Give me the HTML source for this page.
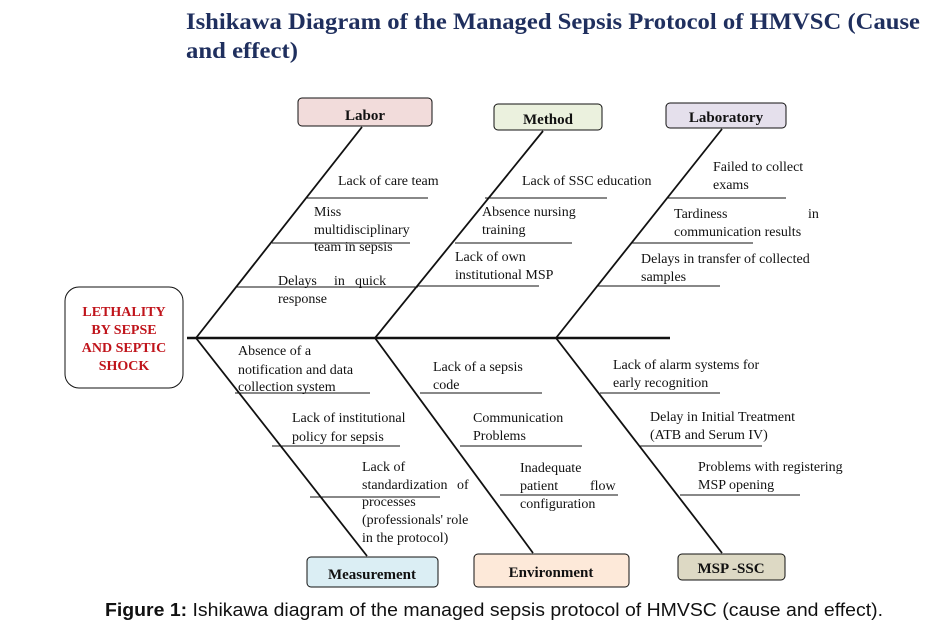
<!DOCTYPE html>
<html><head><meta charset="utf-8"><style>
body{margin:0;background:#fff;width:931px;height:635px;overflow:hidden}
svg{display:block}
.t{font-family:"Liberation Serif",serif;font-size:14px;fill:#111}
.b{font-family:"Liberation Serif",serif;font-size:15px;font-weight:bold;fill:#111}
</style></head><body>
<svg width="931" height="635" viewBox="0 0 931 635">
<text x="186" y="29" font-family="Liberation Serif,serif" font-size="23" font-weight="bold" fill="#1f2f5e" textLength="734" lengthAdjust="spacingAndGlyphs">Ishikawa Diagram of the Managed Sepsis Protocol of HMVSC (Cause</text>
<text x="186" y="58" font-family="Liberation Serif,serif" font-size="23" font-weight="bold" fill="#1f2f5e" textLength="112" lengthAdjust="spacingAndGlyphs">and effect)</text>

<g stroke="#111" fill="none">
<line x1="187" y1="338" x2="670" y2="338" stroke-width="2.5"/>
<line x1="196" y1="338" x2="362" y2="127" stroke-width="1.8"/>
<line x1="375" y1="338" x2="543" y2="131" stroke-width="1.8"/>
<line x1="556" y1="338" x2="722" y2="129" stroke-width="1.8"/>
<line x1="196" y1="338" x2="367" y2="556" stroke-width="1.8"/>
<line x1="375" y1="338" x2="533" y2="553" stroke-width="1.8"/>
<line x1="556" y1="338" x2="722" y2="553" stroke-width="1.8"/>
<g stroke-width="1">
<line x1="307" y1="198" x2="428" y2="198"/><line x1="272" y1="243" x2="410" y2="243"/><line x1="237" y1="287" x2="418" y2="287"/>
<line x1="485" y1="198" x2="607" y2="198"/><line x1="455" y1="243" x2="572" y2="243"/><line x1="418" y1="286" x2="539" y2="286"/>
<line x1="667" y1="198" x2="786" y2="198"/><line x1="632" y1="243" x2="753" y2="243"/><line x1="598" y1="286" x2="720" y2="286"/>
<line x1="235" y1="393" x2="370" y2="393"/><line x1="272" y1="446" x2="400" y2="446"/><line x1="310" y1="497" x2="440" y2="497"/>
<line x1="420" y1="393" x2="542" y2="393"/><line x1="460" y1="446" x2="582" y2="446"/><line x1="500" y1="495" x2="618" y2="495"/>
<line x1="600" y1="393" x2="720" y2="393"/><line x1="640" y1="446" x2="762" y2="446"/><line x1="680" y1="495" x2="800" y2="495"/>
</g>
<g stroke-width="1">
<rect x="65" y="287" width="118" height="101" rx="14" fill="#fff"/>
<rect x="298" y="98" width="134" height="28" rx="4" fill="#f2dcdb"/>
<rect x="494" y="104" width="108" height="26" rx="4" fill="#ebf1de"/>
<rect x="666" y="103" width="120" height="25" rx="4" fill="#e5e0ec"/>
<rect x="307" y="557" width="131" height="30" rx="4" fill="#dbeef4"/>
<rect x="474" y="554" width="155" height="33" rx="4" fill="#fde9d9"/>
<rect x="678" y="554" width="107" height="26" rx="4" fill="#ddd9c4"/>
</g></g>

<g font-family="Liberation Serif,serif" font-weight="bold" font-size="14" fill="#c0141b" text-anchor="middle">
<text x="124" y="316">LETHALITY</text><text x="124" y="334">BY SEPSE</text><text x="124" y="352">AND SEPTIC</text><text x="124" y="370">SHOCK</text>
</g>
<text class="b" x="365" y="120" text-anchor="middle" font-size="16">Labor</text>
<text class="b" x="548" y="124" text-anchor="middle">Method</text>
<text class="b" x="726" y="122" text-anchor="middle">Laboratory</text>
<text class="b" x="372" y="579" text-anchor="middle">Measurement</text>
<text class="b" x="551" y="577" text-anchor="middle">Environment</text>
<text class="b" x="731" y="573" text-anchor="middle">MSP -SSC</text>

<g class="t">
<text x="338" y="185">Lack of care team</text>
<text x="314" y="216">Miss</text><text x="314" y="234">multidisciplinary</text><text x="314" y="251">team in sepsis</text>
<text x="278" y="285">Delays</text><text x="334" y="285">in</text><text x="355" y="285">quick</text><text x="278" y="303">response</text>
<text x="522" y="185">Lack of SSC education</text>
<text x="482" y="216">Absence nursing</text><text x="482" y="234">training</text>
<text x="455" y="261">Lack of own</text><text x="455" y="279">institutional MSP</text>
<text x="713" y="171">Failed to collect</text><text x="713" y="189">exams</text>
<text x="674" y="218">Tardiness</text><text x="808" y="218">in</text><text x="674" y="236">communication results</text>
<text x="641" y="263">Delays in transfer of collected</text><text x="641" y="281">samples</text>
<text x="238" y="355">Absence of a</text><text x="238" y="374">notification and data</text><text x="238" y="391">collection system</text>
<text x="292" y="422">Lack of institutional</text><text x="292" y="441">policy for sepsis</text>
<text x="362" y="471">Lack of</text><text x="362" y="489">standardization</text><text x="457" y="489">of</text><text x="362" y="506">processes</text><text x="362" y="524">(professionals' role</text><text x="362" y="542">in the protocol)</text>
<text x="433" y="371">Lack of a sepsis</text><text x="433" y="389">code</text>
<text x="473" y="422">Communication</text><text x="473" y="440">Problems</text>
<text x="520" y="472">Inadequate</text><text x="520" y="490">patient</text><text x="590" y="490">flow</text><text x="520" y="508">configuration</text>
<text x="613" y="369">Lack of alarm systems for</text><text x="613" y="387">early recognition</text>
<text x="650" y="421">Delay in Initial Treatment</text><text x="650" y="439">(ATB and Serum IV)</text>
<text x="698" y="471">Problems with registering</text><text x="698" y="489">MSP opening</text>
</g>
<text x="105" y="616" font-family="Liberation Sans,sans-serif" font-size="18" fill="#111" textLength="778" lengthAdjust="spacingAndGlyphs"><tspan font-weight="bold">Figure 1:</tspan> Ishikawa diagram of the managed sepsis protocol of HMVSC (cause and effect).</text>
</svg>
</body></html>
